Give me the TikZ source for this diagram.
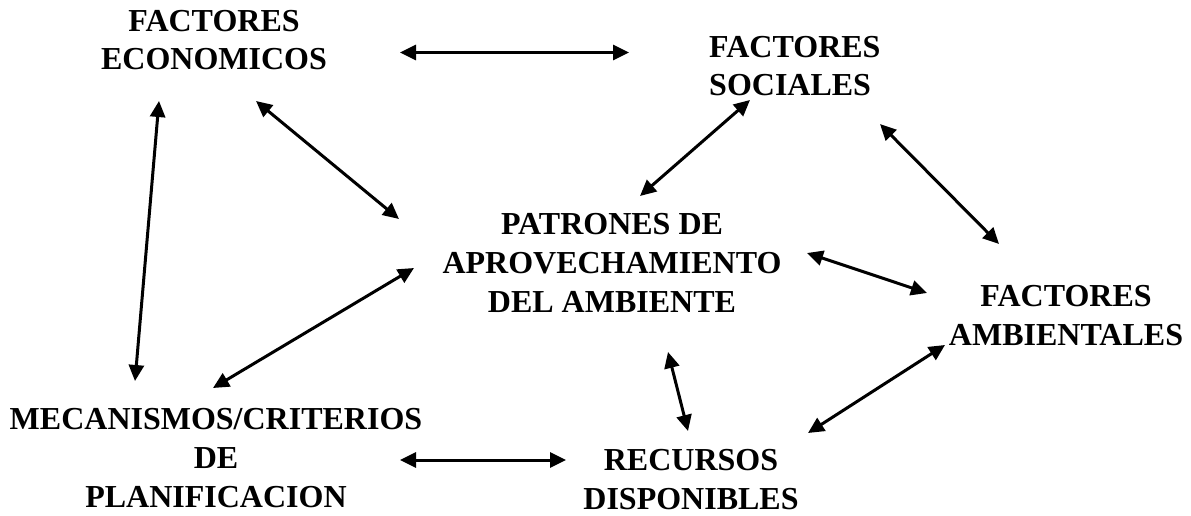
\documentclass[tikz,border=0pt]{standalone}
\usepackage{fontspec}
\setmainfont{Liberation Serif}
\usetikzlibrary{arrows.meta}
\tikzset{
  lbl/.style={inner sep=0pt, anchor=base, align=center, font=\bfseries\fontsize{32}{38.8}\selectfont},
  link/.style={line width=3pt, {Triangle[length=16pt,width=15pt]}-{Triangle[length=16pt,width=15pt]}}
}
\begin{document}
\begin{tikzpicture}[x=1pt,y=-1pt]
\useasboundingbox (0,0) rectangle (1191,516);
\node[lbl] (econ) at (214,70) {FACTORES\\ECONOMICOS};
\node[lbl, align=left, anchor=base west] (soc) at (709,96) {FACTORES\\SOCIALES};
\node[lbl] (pat) at (612,312) {PATRONES DE\\APROVECHAMIENTO\\DEL AMBIENTE};
\node[lbl] (amb) at (1066,345) {FACTORES\\AMBIENTALES};
\node[lbl] (mec) at (216,507) {MECANISMOS/CRITERIOS\\DE\\PLANIFICACION};
\node[lbl] (rec) at (691,509) {RECURSOS\\DISPONIBLES};
% arrow end points
\coordinate (a1) at (400,52.5);  \coordinate (b1) at (629,52.5);
\coordinate (a2) at (256,101);   \coordinate (b2) at (399,219);
\coordinate (a3) at (159,101);   \coordinate (b3) at (135,381);
\coordinate (a4) at (213,388);   \coordinate (b4) at (414,268);
\coordinate (a5) at (750,100);   \coordinate (b5) at (640,196);
\coordinate (a6) at (880,124);   \coordinate (b6) at (999,244);
\coordinate (a7) at (807,253);   \coordinate (b7) at (927,293);
\coordinate (a8) at (668,352);   \coordinate (b8) at (688,431);
\coordinate (a9) at (808,433);   \coordinate (b9) at (945,345);
\coordinate (a10) at (400,460);  \coordinate (b10) at (566,460);
\draw[link] (a1) -- (b1);
\draw[link] (a2) -- (b2);
\draw[link] (a3) -- (b3);
\draw[link] (a4) -- (b4);
\draw[link] (a5) -- (b5);
\draw[link] (a6) -- (b6);
\draw[link] (a7) -- (b7);
\draw[link] (a8) -- (b8);
\draw[link] (a9) -- (b9);
\draw[link] (a10) -- (b10);
\end{tikzpicture}
\end{document}
